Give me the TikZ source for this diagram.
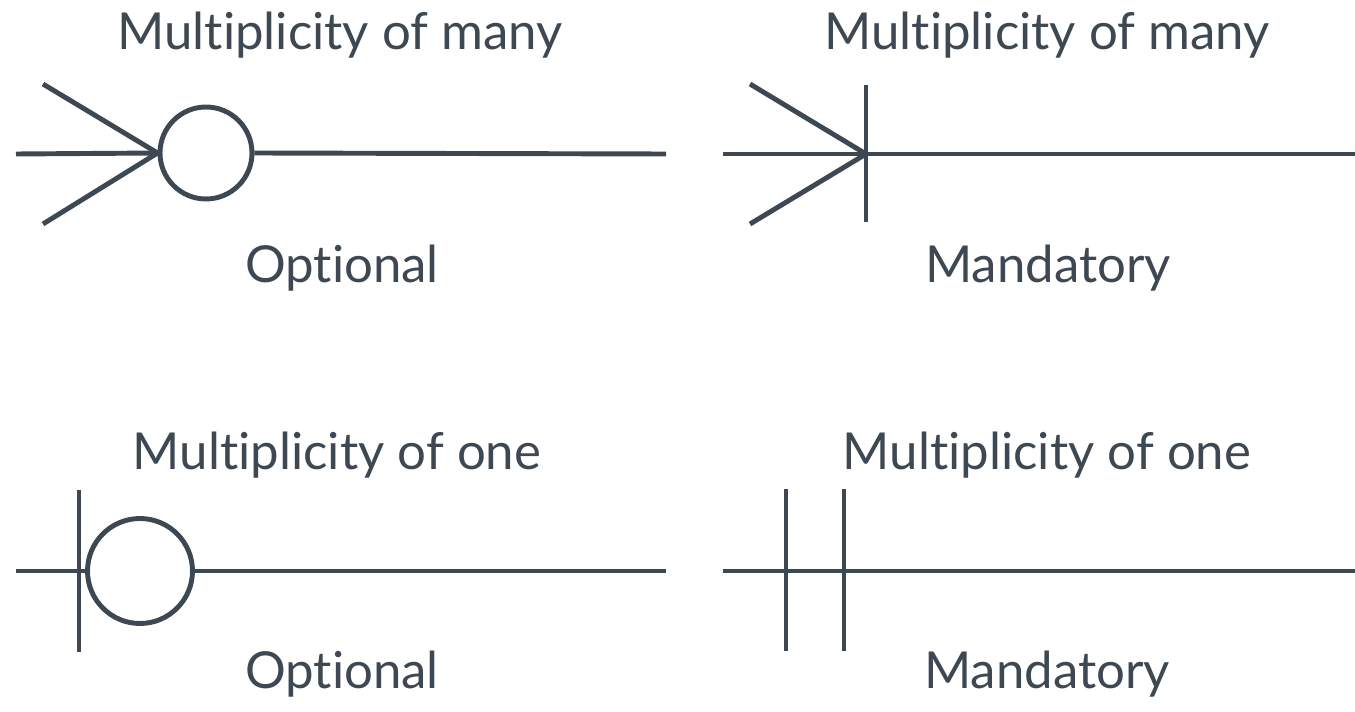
\documentclass[tikz,border=0pt]{standalone}
\usepackage{fontspec}
\setmainfont[Ligatures=NoCommon]{Lato}
\usepackage{xcolor}
\usetikzlibrary{positioning}
\definecolor{slate}{RGB}{61, 72, 82}

\begin{document}
\begin{tikzpicture}[x=0.02cm,y=-0.02cm,line width=2.8pt,draw=slate,
        lbl/.style={anchor=base,text=slate,font=\fontsize{29}{35}\selectfont},
        ring/.style={circle,draw=slate,line width=2.8pt,inner sep=0pt,minimum size=#1}]
    \useasboundingbox (0,0) rectangle (1355,712);
    % captions
    \node[lbl] (manyT1) at (340,50) {Multiplicity of many};
    \node[lbl] (manyT2) at (1047,50) {Multiplicity of many};
    \node[lbl] (optB1) at (342,283) {Optional};
    \node[lbl] (manB1) at (1048,283) {Mandatory};
    \node[lbl] (oneT1) at (337,470) {Multiplicity of one};
    \node[lbl] (oneT2) at (1047,470) {Multiplicity of one};
    \node[lbl] (optB2) at (342,688) {Optional};
    \node[lbl] (manB2) at (1047,688) {Mandatory};
    % many, optional
    \node[ring=1.84cm] (ringA) at (206,153) {};
    \coordinate (a0) at (16,154);
    \coordinate (a1) at (666,154);
    \coordinate (aUp) at (43,84);
    \coordinate (aDn) at (43,224);
    \draw (a0) -- (ringA.west);
    \draw (ringA.east) -- (a1);
    \draw (aUp) -- (ringA.west) -- (aDn);
    % many, mandatory
    \coordinate (b0) at (723,154);
    \coordinate (b1) at (1355,154);
    \coordinate (bTip) at (866,154);
    \coordinate (bUp) at (750,84);
    \coordinate (bDn) at (750,224);
    \coordinate (bBarT) at (866,85);
    \coordinate (bBarB) at (866,222);
    \draw (b0) -- (b1);
    \draw (bUp) -- (bTip) -- (bDn);
    \draw (bBarT) -- (bBarB);
    % one, optional
    \node[ring=2.1cm] (ringC) at (140,571) {};
    \coordinate (c0) at (16,571);
    \coordinate (c1) at (666,571);
    \coordinate (cBarT) at (79,490);
    \coordinate (cBarB) at (79,652);
    \draw (c0) -- (ringC.west);
    \draw (ringC.east) -- (c1);
    \draw (cBarT) -- (cBarB);
    % one, mandatory
    \coordinate (d0) at (723,571);
    \coordinate (d1) at (1355,571);
    \draw (d0) -- (d1);
    \foreach \xx/\nm in {786/dA,844/dB}{
        \coordinate (\nm T) at (\xx,489);
        \coordinate (\nm B) at (\xx,651);
        \draw (\nm T) -- (\nm B);
    }
\end{tikzpicture}
\end{document}
